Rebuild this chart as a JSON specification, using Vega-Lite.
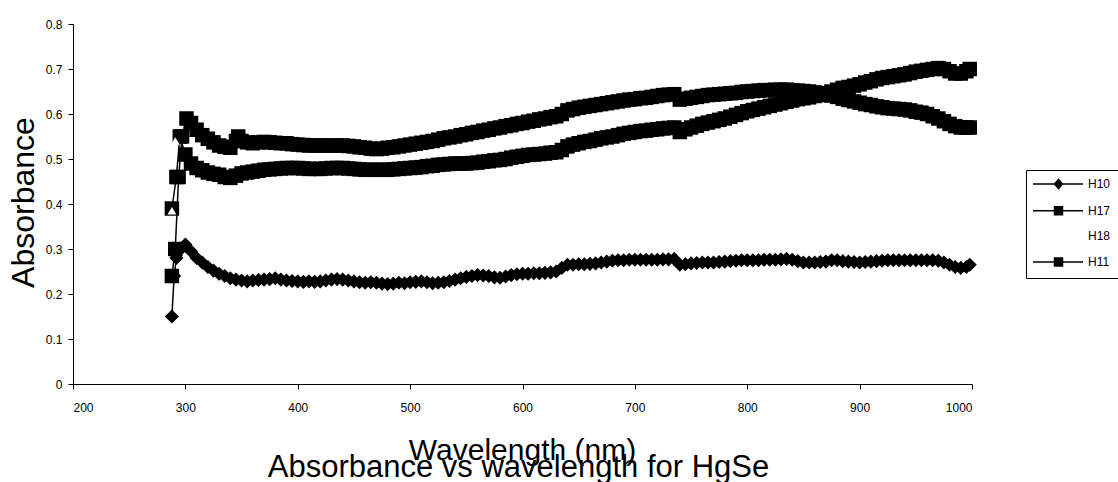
{
  "$schema": "https://vega.github.io/schema/vega-lite/v6.json",
  "width": 899,
  "height": 360,
  "autosize": {"type": "none"},
  "padding": {"left": 73, "top": 24, "right": 146, "bottom": 98},
  "background": "white",
  "config": {
    "view": {"stroke": null},
    "font": "Liberation Sans",
    "axis": {
      "grid": false,
      "domainColor": "black",
      "tickColor": "black",
      "labelColor": "black",
      "titleColor": "black",
      "labelFont": "Liberation Sans",
      "titleFont": "Liberation Sans",
      "labelFontSize": 12,
      "titleFontSize": 30,
      "titleFontWeight": "normal",
      "tickSize": 5
    }
  },
  "title": {
    "text": "Absorbance vs wavelength for HgSe",
    "orient": "bottom",
    "anchor": "middle",
    "font": "Liberation Sans",
    "fontSize": 31,
    "fontWeight": "normal",
    "color": "black",
    "baseline": "alphabetic",
    "offset": 12,
    "dx": -4
  },
  "data": {
    "values": [
      {"s":"H10","w":288,"a":0.15},{"s":"H10","w":290,"a":0.24},{"s":"H10","w":292,"a":0.28},{"s":"H10","w":296,"a":0.30},{"s":"H10","w":300,"a":0.31},
      {"s":"H10","w":305,"a":0.295},{"s":"H10","w":310,"a":0.28},{"s":"H10","w":315,"a":0.27},{"s":"H10","w":320,"a":0.26},{"s":"H10","w":325,"a":0.252},
      {"s":"H10","w":330,"a":0.245},{"s":"H10","w":335,"a":0.24},{"s":"H10","w":340,"a":0.235},{"s":"H10","w":345,"a":0.232},{"s":"H10","w":350,"a":0.23},
      {"s":"H10","w":355,"a":0.228},{"s":"H10","w":360,"a":0.23},{"s":"H10","w":365,"a":0.231},{"s":"H10","w":370,"a":0.232},{"s":"H10","w":375,"a":0.233},
      {"s":"H10","w":380,"a":0.235},{"s":"H10","w":385,"a":0.232},{"s":"H10","w":390,"a":0.23},{"s":"H10","w":395,"a":0.229},{"s":"H10","w":400,"a":0.228},
      {"s":"H10","w":405,"a":0.227},{"s":"H10","w":410,"a":0.228},{"s":"H10","w":415,"a":0.227},{"s":"H10","w":420,"a":0.228},{"s":"H10","w":425,"a":0.23},
      {"s":"H10","w":430,"a":0.232},{"s":"H10","w":435,"a":0.233},{"s":"H10","w":440,"a":0.232},{"s":"H10","w":445,"a":0.23},{"s":"H10","w":450,"a":0.228},
      {"s":"H10","w":455,"a":0.226},{"s":"H10","w":460,"a":0.225},{"s":"H10","w":465,"a":0.226},{"s":"H10","w":470,"a":0.225},{"s":"H10","w":475,"a":0.223},
      {"s":"H10","w":480,"a":0.222},{"s":"H10","w":485,"a":0.223},{"s":"H10","w":490,"a":0.225},{"s":"H10","w":495,"a":0.224},{"s":"H10","w":500,"a":0.226},
      {"s":"H10","w":505,"a":0.227},{"s":"H10","w":510,"a":0.228},{"s":"H10","w":515,"a":0.226},{"s":"H10","w":520,"a":0.224},{"s":"H10","w":525,"a":0.225},
      {"s":"H10","w":530,"a":0.226},{"s":"H10","w":535,"a":0.229},{"s":"H10","w":540,"a":0.232},{"s":"H10","w":545,"a":0.235},{"s":"H10","w":550,"a":0.238},
      {"s":"H10","w":555,"a":0.24},{"s":"H10","w":560,"a":0.242},{"s":"H10","w":565,"a":0.241},{"s":"H10","w":570,"a":0.24},{"s":"H10","w":575,"a":0.237},
      {"s":"H10","w":580,"a":0.236},{"s":"H10","w":585,"a":0.239},{"s":"H10","w":590,"a":0.242},{"s":"H10","w":595,"a":0.244},{"s":"H10","w":600,"a":0.245},
      {"s":"H10","w":605,"a":0.245},{"s":"H10","w":610,"a":0.246},{"s":"H10","w":615,"a":0.246},{"s":"H10","w":620,"a":0.247},{"s":"H10","w":625,"a":0.248},
      {"s":"H10","w":630,"a":0.25},{"s":"H10","w":635,"a":0.258},{"s":"H10","w":640,"a":0.265},{"s":"H10","w":645,"a":0.265},{"s":"H10","w":650,"a":0.266},
      {"s":"H10","w":655,"a":0.266},{"s":"H10","w":660,"a":0.267},{"s":"H10","w":665,"a":0.268},{"s":"H10","w":670,"a":0.27},{"s":"H10","w":675,"a":0.272},
      {"s":"H10","w":680,"a":0.274},{"s":"H10","w":685,"a":0.275},{"s":"H10","w":690,"a":0.275},{"s":"H10","w":695,"a":0.276},{"s":"H10","w":700,"a":0.276},
      {"s":"H10","w":705,"a":0.276},{"s":"H10","w":710,"a":0.276},{"s":"H10","w":715,"a":0.276},{"s":"H10","w":720,"a":0.276},{"s":"H10","w":725,"a":0.277},
      {"s":"H10","w":730,"a":0.277},{"s":"H10","w":735,"a":0.278},{"s":"H10","w":740,"a":0.265},{"s":"H10","w":745,"a":0.266},{"s":"H10","w":750,"a":0.268},
      {"s":"H10","w":755,"a":0.269},{"s":"H10","w":760,"a":0.27},{"s":"H10","w":765,"a":0.27},{"s":"H10","w":770,"a":0.27},{"s":"H10","w":775,"a":0.271},
      {"s":"H10","w":780,"a":0.272},{"s":"H10","w":785,"a":0.273},{"s":"H10","w":790,"a":0.274},{"s":"H10","w":795,"a":0.275},{"s":"H10","w":800,"a":0.275},
      {"s":"H10","w":805,"a":0.275},{"s":"H10","w":810,"a":0.275},{"s":"H10","w":815,"a":0.276},{"s":"H10","w":820,"a":0.276},{"s":"H10","w":825,"a":0.276},
      {"s":"H10","w":830,"a":0.277},{"s":"H10","w":835,"a":0.278},{"s":"H10","w":840,"a":0.276},{"s":"H10","w":845,"a":0.273},{"s":"H10","w":850,"a":0.27},
      {"s":"H10","w":855,"a":0.27},{"s":"H10","w":860,"a":0.27},{"s":"H10","w":865,"a":0.271},{"s":"H10","w":870,"a":0.272},{"s":"H10","w":875,"a":0.275},
      {"s":"H10","w":880,"a":0.275},{"s":"H10","w":885,"a":0.273},{"s":"H10","w":890,"a":0.272},{"s":"H10","w":895,"a":0.271},{"s":"H10","w":900,"a":0.27},
      {"s":"H10","w":905,"a":0.271},{"s":"H10","w":910,"a":0.272},{"s":"H10","w":915,"a":0.273},{"s":"H10","w":920,"a":0.274},{"s":"H10","w":925,"a":0.275},
      {"s":"H10","w":930,"a":0.275},{"s":"H10","w":935,"a":0.275},{"s":"H10","w":940,"a":0.275},{"s":"H10","w":945,"a":0.275},{"s":"H10","w":950,"a":0.275},
      {"s":"H10","w":955,"a":0.275},{"s":"H10","w":960,"a":0.275},{"s":"H10","w":965,"a":0.275},{"s":"H10","w":970,"a":0.274},{"s":"H10","w":975,"a":0.27},
      {"s":"H10","w":980,"a":0.265},{"s":"H10","w":985,"a":0.26},{"s":"H10","w":990,"a":0.258},{"s":"H10","w":995,"a":0.26},{"s":"H10","w":998,"a":0.265},

      {"s":"H17","w":288,"a":0.24},{"s":"H17","w":291,"a":0.30},{"s":"H17","w":294,"a":0.46},{"s":"H17","w":297,"a":0.55},{"s":"H17","w":301,"a":0.59},
      {"s":"H17","w":305,"a":0.58},{"s":"H17","w":310,"a":0.565},{"s":"H17","w":315,"a":0.553},{"s":"H17","w":320,"a":0.545},{"s":"H17","w":325,"a":0.537},
      {"s":"H17","w":330,"a":0.53},{"s":"H17","w":335,"a":0.527},{"s":"H17","w":340,"a":0.525},{"s":"H17","w":345,"a":0.54},{"s":"H17","w":347,"a":0.55},
      {"s":"H17","w":350,"a":0.54},{"s":"H17","w":355,"a":0.537},{"s":"H17","w":360,"a":0.535},{"s":"H17","w":365,"a":0.537},{"s":"H17","w":370,"a":0.538},
      {"s":"H17","w":375,"a":0.537},{"s":"H17","w":380,"a":0.536},{"s":"H17","w":385,"a":0.535},{"s":"H17","w":390,"a":0.535},{"s":"H17","w":395,"a":0.533},
      {"s":"H17","w":400,"a":0.532},{"s":"H17","w":405,"a":0.531},{"s":"H17","w":410,"a":0.53},{"s":"H17","w":415,"a":0.53},{"s":"H17","w":420,"a":0.53},
      {"s":"H17","w":425,"a":0.53},{"s":"H17","w":430,"a":0.53},{"s":"H17","w":435,"a":0.53},{"s":"H17","w":440,"a":0.53},{"s":"H17","w":445,"a":0.529},
      {"s":"H17","w":450,"a":0.528},{"s":"H17","w":455,"a":0.526},{"s":"H17","w":460,"a":0.525},{"s":"H17","w":465,"a":0.523},{"s":"H17","w":470,"a":0.522},
      {"s":"H17","w":475,"a":0.523},{"s":"H17","w":480,"a":0.525},{"s":"H17","w":485,"a":0.526},{"s":"H17","w":490,"a":0.528},{"s":"H17","w":495,"a":0.53},
      {"s":"H17","w":500,"a":0.532},{"s":"H17","w":505,"a":0.534},{"s":"H17","w":510,"a":0.536},{"s":"H17","w":515,"a":0.538},{"s":"H17","w":520,"a":0.54},
      {"s":"H17","w":525,"a":0.543},{"s":"H17","w":530,"a":0.546},{"s":"H17","w":535,"a":0.548},{"s":"H17","w":540,"a":0.55},{"s":"H17","w":545,"a":0.553},
      {"s":"H17","w":550,"a":0.555},{"s":"H17","w":555,"a":0.558},{"s":"H17","w":560,"a":0.56},{"s":"H17","w":565,"a":0.563},{"s":"H17","w":570,"a":0.565},
      {"s":"H17","w":575,"a":0.568},{"s":"H17","w":580,"a":0.57},{"s":"H17","w":585,"a":0.573},{"s":"H17","w":590,"a":0.575},{"s":"H17","w":595,"a":0.578},
      {"s":"H17","w":600,"a":0.58},{"s":"H17","w":605,"a":0.583},{"s":"H17","w":610,"a":0.585},{"s":"H17","w":615,"a":0.588},{"s":"H17","w":620,"a":0.59},
      {"s":"H17","w":625,"a":0.593},{"s":"H17","w":630,"a":0.595},{"s":"H17","w":635,"a":0.6},{"s":"H17","w":640,"a":0.608},{"s":"H17","w":645,"a":0.611},
      {"s":"H17","w":650,"a":0.614},{"s":"H17","w":655,"a":0.616},{"s":"H17","w":660,"a":0.618},{"s":"H17","w":665,"a":0.62},{"s":"H17","w":670,"a":0.622},
      {"s":"H17","w":675,"a":0.624},{"s":"H17","w":680,"a":0.626},{"s":"H17","w":685,"a":0.628},{"s":"H17","w":690,"a":0.63},{"s":"H17","w":695,"a":0.632},
      {"s":"H17","w":700,"a":0.633},{"s":"H17","w":705,"a":0.635},{"s":"H17","w":710,"a":0.636},{"s":"H17","w":715,"a":0.638},{"s":"H17","w":720,"a":0.64},
      {"s":"H17","w":725,"a":0.642},{"s":"H17","w":730,"a":0.643},{"s":"H17","w":735,"a":0.644},{"s":"H17","w":740,"a":0.632},{"s":"H17","w":745,"a":0.634},
      {"s":"H17","w":750,"a":0.636},{"s":"H17","w":755,"a":0.638},{"s":"H17","w":760,"a":0.64},{"s":"H17","w":765,"a":0.642},{"s":"H17","w":770,"a":0.643},
      {"s":"H17","w":775,"a":0.644},{"s":"H17","w":780,"a":0.645},{"s":"H17","w":785,"a":0.646},{"s":"H17","w":790,"a":0.647},{"s":"H17","w":795,"a":0.649},
      {"s":"H17","w":800,"a":0.65},{"s":"H17","w":805,"a":0.651},{"s":"H17","w":810,"a":0.652},{"s":"H17","w":815,"a":0.653},{"s":"H17","w":820,"a":0.653},
      {"s":"H17","w":825,"a":0.654},{"s":"H17","w":830,"a":0.654},{"s":"H17","w":835,"a":0.654},{"s":"H17","w":840,"a":0.653},{"s":"H17","w":845,"a":0.652},
      {"s":"H17","w":850,"a":0.651},{"s":"H17","w":855,"a":0.65},{"s":"H17","w":860,"a":0.648},{"s":"H17","w":865,"a":0.646},{"s":"H17","w":870,"a":0.644},
      {"s":"H17","w":875,"a":0.641},{"s":"H17","w":880,"a":0.638},{"s":"H17","w":885,"a":0.634},{"s":"H17","w":890,"a":0.631},{"s":"H17","w":895,"a":0.628},
      {"s":"H17","w":900,"a":0.625},{"s":"H17","w":905,"a":0.622},{"s":"H17","w":910,"a":0.62},{"s":"H17","w":915,"a":0.617},{"s":"H17","w":920,"a":0.615},
      {"s":"H17","w":925,"a":0.613},{"s":"H17","w":930,"a":0.612},{"s":"H17","w":935,"a":0.611},{"s":"H17","w":940,"a":0.61},{"s":"H17","w":945,"a":0.608},
      {"s":"H17","w":950,"a":0.605},{"s":"H17","w":955,"a":0.603},{"s":"H17","w":960,"a":0.6},{"s":"H17","w":965,"a":0.595},{"s":"H17","w":970,"a":0.59},
      {"s":"H17","w":975,"a":0.584},{"s":"H17","w":980,"a":0.578},{"s":"H17","w":985,"a":0.573},{"s":"H17","w":990,"a":0.57},{"s":"H17","w":995,"a":0.57},
      {"s":"H17","w":998,"a":0.57},

      {"s":"H18","w":288,"a":0.385},{"s":"H18","w":291,"a":0.54},

      {"s":"H11","w":288,"a":0.39},{"s":"H11","w":292,"a":0.46},{"s":"H11","w":295,"a":0.55},{"s":"H11","w":300,"a":0.51},{"s":"H11","w":305,"a":0.49},
      {"s":"H11","w":310,"a":0.48},{"s":"H11","w":315,"a":0.475},{"s":"H11","w":320,"a":0.47},{"s":"H11","w":325,"a":0.467},{"s":"H11","w":330,"a":0.465},
      {"s":"H11","w":335,"a":0.46},{"s":"H11","w":340,"a":0.458},{"s":"H11","w":345,"a":0.463},{"s":"H11","w":350,"a":0.468},{"s":"H11","w":355,"a":0.47},
      {"s":"H11","w":360,"a":0.472},{"s":"H11","w":365,"a":0.474},{"s":"H11","w":370,"a":0.476},{"s":"H11","w":375,"a":0.477},{"s":"H11","w":380,"a":0.478},
      {"s":"H11","w":385,"a":0.479},{"s":"H11","w":390,"a":0.48},{"s":"H11","w":395,"a":0.48},{"s":"H11","w":400,"a":0.48},{"s":"H11","w":405,"a":0.479},
      {"s":"H11","w":410,"a":0.478},{"s":"H11","w":415,"a":0.478},{"s":"H11","w":420,"a":0.478},{"s":"H11","w":425,"a":0.479},{"s":"H11","w":430,"a":0.48},
      {"s":"H11","w":435,"a":0.48},{"s":"H11","w":440,"a":0.48},{"s":"H11","w":445,"a":0.479},{"s":"H11","w":450,"a":0.478},{"s":"H11","w":455,"a":0.477},
      {"s":"H11","w":460,"a":0.476},{"s":"H11","w":465,"a":0.476},{"s":"H11","w":470,"a":0.476},{"s":"H11","w":475,"a":0.476},{"s":"H11","w":480,"a":0.476},
      {"s":"H11","w":485,"a":0.477},{"s":"H11","w":490,"a":0.478},{"s":"H11","w":495,"a":0.479},{"s":"H11","w":500,"a":0.48},{"s":"H11","w":505,"a":0.481},
      {"s":"H11","w":510,"a":0.482},{"s":"H11","w":515,"a":0.484},{"s":"H11","w":520,"a":0.485},{"s":"H11","w":525,"a":0.487},{"s":"H11","w":530,"a":0.488},
      {"s":"H11","w":535,"a":0.489},{"s":"H11","w":540,"a":0.49},{"s":"H11","w":545,"a":0.49},{"s":"H11","w":550,"a":0.49},{"s":"H11","w":555,"a":0.491},
      {"s":"H11","w":560,"a":0.492},{"s":"H11","w":565,"a":0.494},{"s":"H11","w":570,"a":0.495},{"s":"H11","w":575,"a":0.497},{"s":"H11","w":580,"a":0.498},
      {"s":"H11","w":585,"a":0.5},{"s":"H11","w":590,"a":0.503},{"s":"H11","w":595,"a":0.505},{"s":"H11","w":600,"a":0.507},{"s":"H11","w":605,"a":0.509},
      {"s":"H11","w":610,"a":0.51},{"s":"H11","w":615,"a":0.511},{"s":"H11","w":620,"a":0.512},{"s":"H11","w":625,"a":0.514},{"s":"H11","w":630,"a":0.515},
      {"s":"H11","w":635,"a":0.52},{"s":"H11","w":640,"a":0.528},{"s":"H11","w":645,"a":0.532},{"s":"H11","w":650,"a":0.535},{"s":"H11","w":655,"a":0.538},
      {"s":"H11","w":660,"a":0.54},{"s":"H11","w":665,"a":0.543},{"s":"H11","w":670,"a":0.546},{"s":"H11","w":675,"a":0.548},{"s":"H11","w":680,"a":0.55},
      {"s":"H11","w":685,"a":0.553},{"s":"H11","w":690,"a":0.556},{"s":"H11","w":695,"a":0.558},{"s":"H11","w":700,"a":0.56},{"s":"H11","w":705,"a":0.562},
      {"s":"H11","w":710,"a":0.563},{"s":"H11","w":715,"a":0.565},{"s":"H11","w":720,"a":0.566},{"s":"H11","w":725,"a":0.568},{"s":"H11","w":730,"a":0.569},
      {"s":"H11","w":735,"a":0.57},{"s":"H11","w":740,"a":0.56},{"s":"H11","w":745,"a":0.566},{"s":"H11","w":750,"a":0.57},{"s":"H11","w":755,"a":0.574},
      {"s":"H11","w":760,"a":0.578},{"s":"H11","w":765,"a":0.581},{"s":"H11","w":770,"a":0.584},{"s":"H11","w":775,"a":0.587},{"s":"H11","w":780,"a":0.59},
      {"s":"H11","w":785,"a":0.594},{"s":"H11","w":790,"a":0.598},{"s":"H11","w":795,"a":0.602},{"s":"H11","w":800,"a":0.606},{"s":"H11","w":805,"a":0.609},
      {"s":"H11","w":810,"a":0.612},{"s":"H11","w":815,"a":0.615},{"s":"H11","w":820,"a":0.618},{"s":"H11","w":825,"a":0.621},{"s":"H11","w":830,"a":0.624},
      {"s":"H11","w":835,"a":0.627},{"s":"H11","w":840,"a":0.63},{"s":"H11","w":845,"a":0.633},{"s":"H11","w":850,"a":0.635},{"s":"H11","w":855,"a":0.637},
      {"s":"H11","w":860,"a":0.64},{"s":"H11","w":865,"a":0.642},{"s":"H11","w":870,"a":0.645},{"s":"H11","w":875,"a":0.65},{"s":"H11","w":880,"a":0.654},
      {"s":"H11","w":885,"a":0.658},{"s":"H11","w":890,"a":0.66},{"s":"H11","w":895,"a":0.663},{"s":"H11","w":900,"a":0.666},{"s":"H11","w":905,"a":0.67},
      {"s":"H11","w":910,"a":0.673},{"s":"H11","w":915,"a":0.677},{"s":"H11","w":920,"a":0.68},{"s":"H11","w":925,"a":0.682},{"s":"H11","w":930,"a":0.684},
      {"s":"H11","w":935,"a":0.686},{"s":"H11","w":940,"a":0.688},{"s":"H11","w":945,"a":0.691},{"s":"H11","w":950,"a":0.694},{"s":"H11","w":955,"a":0.696},
      {"s":"H11","w":960,"a":0.698},{"s":"H11","w":965,"a":0.7},{"s":"H11","w":970,"a":0.702},{"s":"H11","w":975,"a":0.7},{"s":"H11","w":980,"a":0.695},
      {"s":"H11","w":985,"a":0.69},{"s":"H11","w":990,"a":0.69},{"s":"H11","w":995,"a":0.695},{"s":"H11","w":998,"a":0.7}
    ]
  },
  "encoding": {
    "x": {
      "field": "w",
      "type": "quantitative",
      "scale": {"domain": [200, 1000], "nice": false, "zero": false},
      "axis": {
        "title": "Wavelength (nm)",
        "values": [200, 300, 400, 500, 600, 700, 800, 900, 1000],
        "format": "d",
        "labelPadding": 13,
        "titleX": 449,
        "titleY": 75,
        "titleBaseline": "alphabetic",
        "titleAlign": "center"
      }
    },
    "y": {
      "field": "a",
      "type": "quantitative",
      "scale": {"domain": [0, 0.8], "nice": false},
      "axis": {
        "title": "Absorbance",
        "values": [0, 0.1, 0.2, 0.3, 0.4, 0.5, 0.6, 0.7, 0.8],
        "format": ".1~f",
        "labelPadding": 6,
        "titleFontSize": 32,
        "titleX": -40,
        "titleY": 178,
        "titleAngle": 270,
        "titleBaseline": "alphabetic",
        "titleAlign": "center"
      }
    },
    "color": {
      "field": "s",
      "type": "nominal",
      "scale": {"domain": ["H10", "H17", "H18", "H11"], "range": ["black", "black", "white", "black"]},
      "legend": {
        "orient": "none",
        "legendX": 953,
        "legendY": 146,
        "title": null,
        "padding": 8,
        "rowPadding": 11.7,
        "symbolSize": 100,
        "symbolStrokeWidth": 1.5,
        "labelOffset": 42,
        "labelFontSize": 12,
        "labelFont": "Liberation Sans",
        "labelColor": "black",
        "strokeColor": "black",
        "fillColor": "white",
        "encode": {
          "symbols": {
            "update": {
              "shape": {"signal": "datum.value == 'H10' ? 'M-1.4,0H8.6M3.7,-0.9L4.5,0L3.7,0.9L2.9,0Z' : 'M-1.4,0H8.6M2.9,-0.8H4.5V0.8H2.9Z'"},
              "fill": {"signal": "datum.value == 'H18' ? 'white' : 'black'"},
              "stroke": {"signal": "datum.value == 'H18' ? 'white' : 'black'"},
              "opacity": {"value": 1},
              "strokeWidth": {"value": 1.5}
            }
          }
        }
      }
    }
  },
  "layer": [
    {"mark": {"type": "line", "strokeWidth": 1.5}},
    {"transform": [{"filter": "datum.s == 'H10' && datum.w >= 300"}], "mark": {"type": "line", "strokeWidth": 7}},
    {"transform": [{"filter": "datum.s == 'H10'"}], "mark": {"type": "point", "shape": "diamond", "filled": true, "size": 200, "opacity": 1}},
    {"transform": [{"filter": "datum.s == 'H17'"}], "mark": {"type": "point", "shape": "square", "filled": true, "size": 210, "opacity": 1}},
    {"transform": [{"filter": "datum.s == 'H11'"}], "mark": {"type": "point", "shape": "square", "filled": true, "size": 210, "opacity": 1}},
    {"transform": [{"filter": "datum.s == 'H18'"}], "mark": {"type": "point", "shape": "triangle-up", "filled": true, "size": 80, "opacity": 1}}
  ]
}
